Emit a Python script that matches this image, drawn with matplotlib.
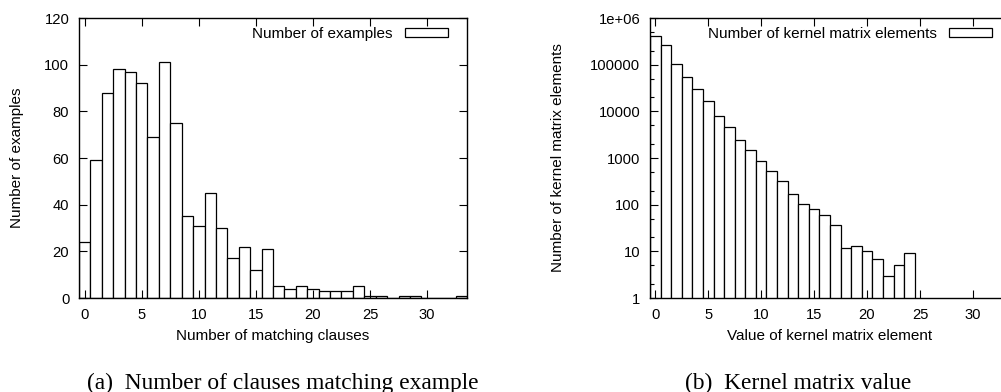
import numpy as np
import matplotlib
matplotlib.use('Agg')
import matplotlib.pyplot as plt
from matplotlib.ticker import FixedLocator, FixedFormatter, LogLocator, NullFormatter

# (a) number of clauses matching each example
clauses = list(range(0, 34))
examples = [24, 59, 88, 98, 97, 92, 69, 101, 75, 35,
            31, 45, 30, 17, 22, 12, 21, 5, 4, 5,
            4, 3, 3, 3, 5, 1, 1, 0, 1, 1,
            0, 0, 0, 1]

# (b) kernel matrix value histogram
kvalues = list(range(0, 25))
kcounts = [420000, 260000, 103000, 53500, 29500, 16600, 8070, 4540, 2390, 1510,
           850, 518, 321, 167, 103, 80, 60, 36, 12, 13,
           10, 7, 3, 5, 9]

log_ticks = [1, 10, 100, 1000, 10000, 100000, 1000000]
log_labels = ['1', '10', '100', '1000', '10000', '100000', '1e+06']

plt.rcParams['font.family'] = ['Liberation Sans', 'DejaVu Sans']
plt.rcParams['font.size'] = 11

W, H = 1001, 392
fig = plt.figure(figsize=(W / 100, H / 100), dpi=100)

ax1 = fig.add_axes([79 / W, 1 - 298 / H, 388 / W, 280 / H])
ax2 = fig.add_axes([650 / W, 1 - 298 / H, 360 / W, 280 / H])


def style(ax):
    for s in ax.spines.values():
        s.set_linewidth(1.0)
    ax.tick_params(which='major', direction='in', length=6, width=0.8,
                   top=True, right=True, pad=7.0, labelsize=10.6)
    ax.tick_params(which='minor', direction='in', length=3, width=0.8,
                   top=False, right=True)


ax1.bar(clauses, examples, width=1.0, color='white', edgecolor='black',
        linewidth=0.9, label='Number of examples')
ax1.set_xlim(-0.5, 33.5)
ax1.set_ylim(0, 120)
ax1.set_xticks(range(0, 31, 5))
ax1.set_yticks(range(0, 121, 20))
style(ax1)
ax1.set_ylabel('Number of examples')
ax1.yaxis.set_label_coords(-0.142, 0.5)
ax1.set_xlabel('Number of matching clauses')
ax1.xaxis.set_label_coords(0.5, -0.112)
ax1.legend(loc='upper right', bbox_to_anchor=(1 - 19 / 388, 1 - 9 / 280),
           frameon=False, markerfirst=False, borderpad=0, borderaxespad=0,
           handlelength=2.8, handleheight=0.55, handletextpad=0.8, fontsize=11)

ax2.set_yscale('log')
ax2.bar(kvalues, kcounts, width=1.0, color='white', edgecolor='black',
        linewidth=0.9, label='Number of kernel matrix elements')
ax2.set_xlim(-0.5, 33.5)
ax2.set_ylim(1, 1e6)
ax2.set_xticks(range(0, 31, 5))
ax2.yaxis.set_major_locator(FixedLocator(log_ticks))
ax2.yaxis.set_major_formatter(FixedFormatter(log_labels))
ax2.yaxis.set_minor_locator(LogLocator(base=10, subs=(2.0, 5.0)))
ax2.yaxis.set_minor_formatter(NullFormatter())
style(ax2)
ax2.set_ylabel('Number of kernel matrix elements')
ax2.yaxis.set_label_coords(-0.236, 0.5)
ax2.set_xlabel('Value of kernel matrix element')
ax2.xaxis.set_label_coords(0.5, -0.112)
ax2.legend(loc='upper right', bbox_to_anchor=(1 - 18 / 360, 1 - 9 / 280),
           frameon=False, markerfirst=False, borderpad=0, borderaxespad=0,
           handlelength=2.8, handleheight=0.55, handletextpad=0.8, fontsize=11)

cap = dict(family=['Liberation Serif', 'DejaVu Serif'], fontsize=16.8,
           ha='center', va='center')
fig.text(283 / W, 1 - 383 / H, '(a)  Number of clauses matching example', **cap)
fig.text(798 / W, 1 - 383 / H, '(b)  Kernel matrix value', **cap)

fig.savefig('out.png', dpi=100)
